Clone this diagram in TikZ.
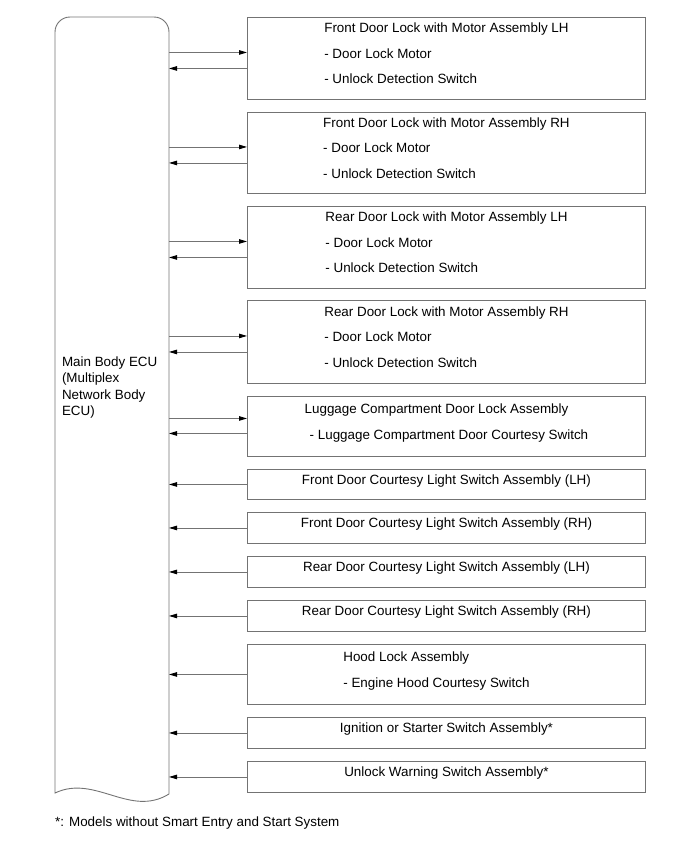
\documentclass[tikz,border=0pt]{standalone}
\usepackage{fontspec}
\setmainfont{Liberation Sans}
\usetikzlibrary{arrows.meta}
\tikzset{
  line/.style={draw=black!55,line width=0.9pt},
  box/.style={line,anchor=north west,minimum width=398pt,inner ysep=2pt,
    align=left,text depth=10pt,font=\fontsize{13.4}{25.5}\selectfont},
}
\begin{document}
\begin{tikzpicture}[x=1pt,y=-1pt,>={Triangle[length=8pt,width=4.5pt,black]},
    font=\fontsize{13.4}{16.3}\selectfont]
  \useasboundingbox (0,0) rectangle (691,855);
  % ECU
  \node[minimum width=114pt,minimum height=777pt,anchor=north west,
    inner sep=0pt,outer sep=0pt] (ecu) at (55,17) {};
  \draw[line] (169,794) .. controls (130,818) and (95,774) .. (55,793)
    [rounded corners=15pt] -- (55,17) -- (169,17) -- (169,794);
  \node[anchor=west,align=left] (ecutxt) at (58.5,387.5)
    {Main Body ECU\\(Multiplex\\Network Body\\ECU)};
  % boxes
  \node[box,minimum height=82pt] (b1) at (247,17)
    {Front Door Lock with Motor Assembly LH\\- Door Lock Motor\\- Unlock Detection Switch};
  \node[box,minimum height=81pt] (b2) at (247,112)
    {Front Door Lock with Motor Assembly RH\\- Door Lock Motor\\- Unlock Detection Switch};
  \node[box,minimum height=82pt] (b3) at (247,206)
    {Rear Door Lock with Motor Assembly LH\\- Door Lock Motor\\- Unlock Detection Switch};
  \node[box,minimum height=83pt] (b4) at (247,300)
    {Rear Door Lock with Motor Assembly RH\\- Door Lock Motor\\- Unlock Detection Switch};
  \node[box,minimum height=60pt] (b5) at (247,396)
    {Luggage Compartment Door Lock Assembly\\\hspace*{5pt}- Luggage Compartment Door Courtesy Switch};
  \node[box,minimum height=30pt] (b6) at (247,469)
    {Front Door Courtesy Light Switch Assembly (LH)};
  \node[box,minimum height=31pt] (b7) at (247,512)
    {Front Door Courtesy Light Switch Assembly (RH)};
  \node[box,minimum height=31pt] (b8) at (247,556)
    {Rear Door Courtesy Light Switch Assembly (LH)};
  \node[box,minimum height=31pt] (b9) at (247,600)
    {Rear Door Courtesy Light Switch Assembly (RH)};
  \node[box,minimum height=60pt] (b10) at (247,644)
    {Hood Lock Assembly\\- Engine Hood Courtesy Switch\hspace*{20pt}};
  \node[box,minimum height=31pt] (b11) at (247,717)
    {Ignition or Starter Switch Assembly*};
  \node[box,minimum height=31pt] (b12) at (247,761)
    {Unlock Warning Switch Assembly*};
  % signals
  \foreach \b in {b1,b2,b3,b4}{
    \draw[line,->,transform canvas={yshift=6pt}] (ecu.east |- \b.west) -- (\b.west);
    \draw[line,<-,transform canvas={yshift=-10pt}] (ecu.east |- \b.west) -- (\b.west);
  }
  \draw[line,->,transform canvas={yshift=8pt}] (ecu.east |- b5.west) -- (b5.west);
  \draw[line,<-,transform canvas={yshift=-7pt}] (ecu.east |- b5.west) -- (b5.west);
  \foreach \b in {b6,b7,b8,b9,b10,b11,b12}
    \draw[line,<-] (ecu.east |- \b.west) -- (\b.west);
  \node[anchor=west,inner sep=0pt] (note) at (55,823.5)
    {*: Models without Smart Entry and Start System};
\end{tikzpicture}
\end{document}
